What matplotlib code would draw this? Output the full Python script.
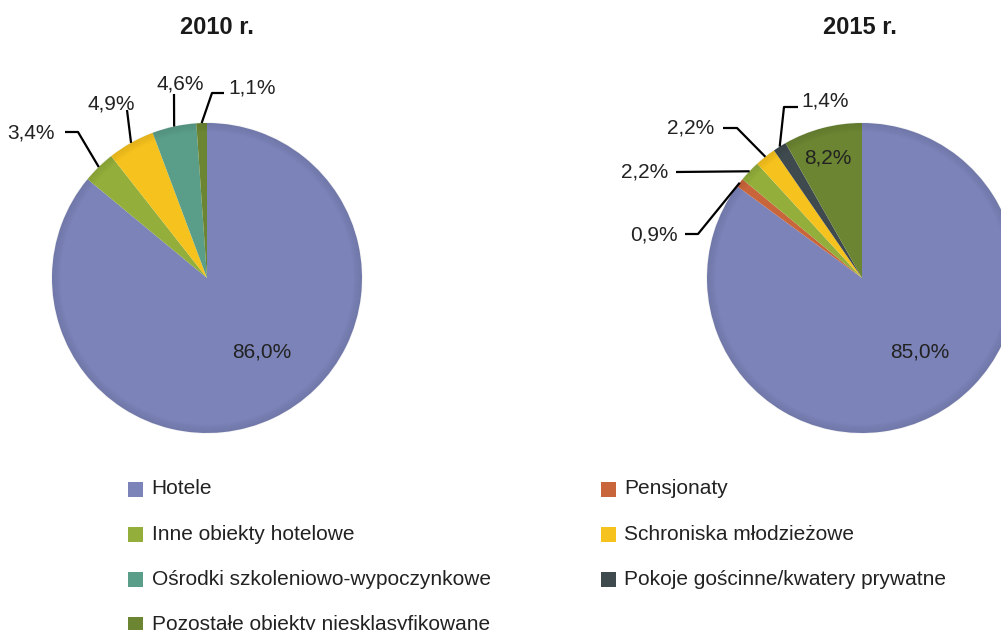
# Struktura bazy noclegowej - 2010 vs 2015 (pie charts)

import matplotlib
matplotlib.use("Agg")
import matplotlib.pyplot as plt
import numpy as np
from matplotlib.patches import Rectangle, Circle

plt.rcParams['font.family'] = ['Liberation Sans', 'DejaVu Sans']

# ================================
# Data
# ================================
categories = [
    "Hotele",
    "Pensjonaty",
    "Inne obiekty hotelowe",
    "Schroniska młodzieżowe",
    "Ośrodki szkoleniowo-wypoczynkowe",
    "Pokoje gościnne/kwatery prywatne",
    "Pozostałe obiekty niesklasyfikowane",
]
share_2010 = [86.0, 0.0, 3.4, 4.9, 4.6, 0.0, 1.1]
share_2015 = [85.0, 0.9, 2.2, 2.2, 0.0, 1.4, 8.2]
years = ["2010 r.", "2015 r."]

colors = ["#7B83B8", "#C8653A", "#93AE3B", "#F6C21E",
          "#5A9E89", "#3F4A4F", "#6B8532"]

# ================================
# Layout (pixel coords, y from top)
# ================================
W, H = 1001, 630
R = 155
centers = [(207, 278), (862, 278)]
title_pos = [(217, 27), (860, 27)]

# label text position, then points of the leader line (before the anchor on the rim)
label_layout = [
    {
        0: ((262, 352), []),
        2: ((31, 133), [(65, 132), (78, 132)]),
        3: ((111, 104), [(127, 110)]),
        4: ((180, 84), [(174, 94)]),
        6: ((252, 88), [(224, 93), (212, 93)]),
    },
    {
        0: ((920, 352), []),
        6: ((828, 158), []),
        5: ((825, 101), [(798, 107), (784, 107)]),
        3: ((691, 128), [(723, 128), (737, 128)]),
        2: ((645, 172), [(676, 172)]),
        1: ((654, 235), [(685, 234), (698, 234)]),
    },
]


def py(y):
    return H - y


fig = plt.figure(figsize=(W / 100, H / 100), dpi=100)
ax = fig.add_axes([0, 0, 1, 1])

text_color = "#222222"

for k, shares in enumerate([share_2010, share_2015]):
    idx = [i for i, v in enumerate(shares) if v > 0]
    vals = [shares[i] for i in idx]
    cx, cy = centers[k]
    wedges, _ = ax.pie(vals, colors=[colors[i] for i in idx], startangle=90,
                       counterclock=False, radius=R, center=(cx, py(cy)),
                       wedgeprops=dict(linewidth=0))

    # soft darker rim (imitates the bevel of the original)
    for j in range(10):
        ring = Circle((cx, py(cy)), R - j * 0.9, fill=False,
                      edgecolor="black", linewidth=1.2, alpha=0.045 * (10 - j) / 10)
        ax.add_patch(ring)

    ax.text(title_pos[k][0], py(title_pos[k][1]), years[k], ha="center",
            va="center", fontsize=17, fontweight="bold", color="#1a1a1a")

    for w, i in zip(wedges, idx):
        (tx, ty), pts = label_layout[k][i]
        lab = f"{shares[i]:.1f}%".replace(".", ",")
        ax.text(tx, py(ty), lab, ha="center", va="center", fontsize=15,
                color=text_color)
        if pts:
            mid = np.deg2rad((w.theta1 + w.theta2) / 2)
            ax_x = cx + R * np.cos(mid)
            ax_y = py(cy) + R * np.sin(mid)
            xs = [p[0] for p in pts] + [ax_x]
            ys = [py(p[1]) for p in pts] + [ax_y]
            ax.plot(xs, ys, color="black", linewidth=1.6, solid_capstyle="butt")

# ================================
# Legend (two columns, row-major order)
# ================================
col_x = [135, 608]
row_y0, row_dy = 489, 45.2
sq = 15
for i, name in enumerate(categories):
    x = col_x[i % 2]
    y = row_y0 + row_dy * (i // 2)
    ax.add_patch(Rectangle((x - sq / 2, py(y) - sq / 2), sq, sq,
                           facecolor=colors[i], edgecolor="none"))
    ax.text(x + sq / 2 + 9, py(y), name, ha="left", va="center",
            fontsize=15, color=text_color)

ax.set_xlim(0, W)
ax.set_ylim(0, H)
ax.set_aspect("auto")
ax.axis("off")

fig.savefig("out.png", dpi=100, facecolor="white")
